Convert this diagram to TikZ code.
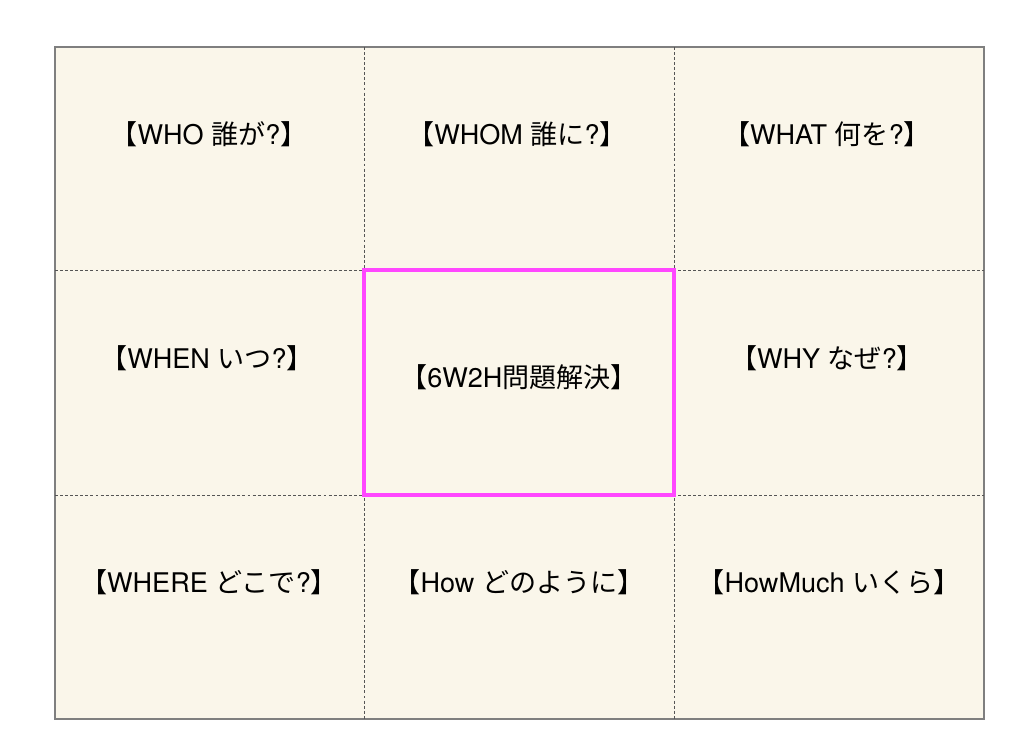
\documentclass[tikz,border=0pt]{standalone}
\usepackage{fontspec}
\setmainfont{TeX Gyre Heros}
\newfontfamily\jp{Noto Sans CJK JP}
\usepackage{xcolor}
\usepackage{tikz}

\definecolor{cream}{HTML}{FAF6EA}
\definecolor{frame}{HTML}{7F7F7F}
\definecolor{grid}{HTML}{555555}
\definecolor{pink}{HTML}{FF47FF}

\begin{document}
\begin{tikzpicture}[x=0.75pt,y=-0.75pt,
	cell/.style={font=\fontsize{20.3}{23}\selectfont,inner sep=0pt}]
	\useasboundingbox (0,0) rectangle (1024,754);
	
	\draw[frame,line width=1.1pt,fill=cream] (55,47) rectangle (984,719);
	
	\draw[grid,line width=0.7pt,dash pattern=on 2.2pt off 1.6pt] (364,47) -- (364,719);
	\draw[grid,line width=0.7pt,dash pattern=on 2.2pt off 1.6pt] (674,47) -- (674,719);
	\draw[grid,line width=0.7pt,dash pattern=on 2.2pt off 1.6pt] (55,270) -- (984,270);
	\draw[grid,line width=0.7pt,dash pattern=on 2.2pt off 1.6pt] (55,495) -- (984,495);
	
	\draw[pink,line width=2.3pt] (364,270) rectangle (674,495);
	
	\node[cell] (who) at (209,134) {{\jp【}WHO {\jp 誰が}?{\jp】}};
	\node[cell] (whom) at (517,134) {{\jp【}WHOM {\jp 誰に}?{\jp】}};
	\node[cell] (what) at (827,134) {{\jp【}WHAT {\jp 何を}?{\jp】}};
	
	\node[cell] (when) at (207,358) {{\jp【}WHEN {\jp いつ}?{\jp】}};
	\node[cell] (core) at (519,377) {{\jp【}6W2H{\jp 問題解決】}};
	\node[cell] (why) at (827,358) {{\jp【}WHY {\jp なぜ}?{\jp】}};
	
	\node[cell] (where) at (209,582) {{\jp【}WHERE {\jp どこで}?{\jp】}};
	\node[cell] (how) at (519,582) {{\jp【}How {\jp どのように】}};
	\node[cell] (much) at (829,582) {{\jp【}HowMuch {\jp いくら】}};
\end{tikzpicture}
\end{document}
